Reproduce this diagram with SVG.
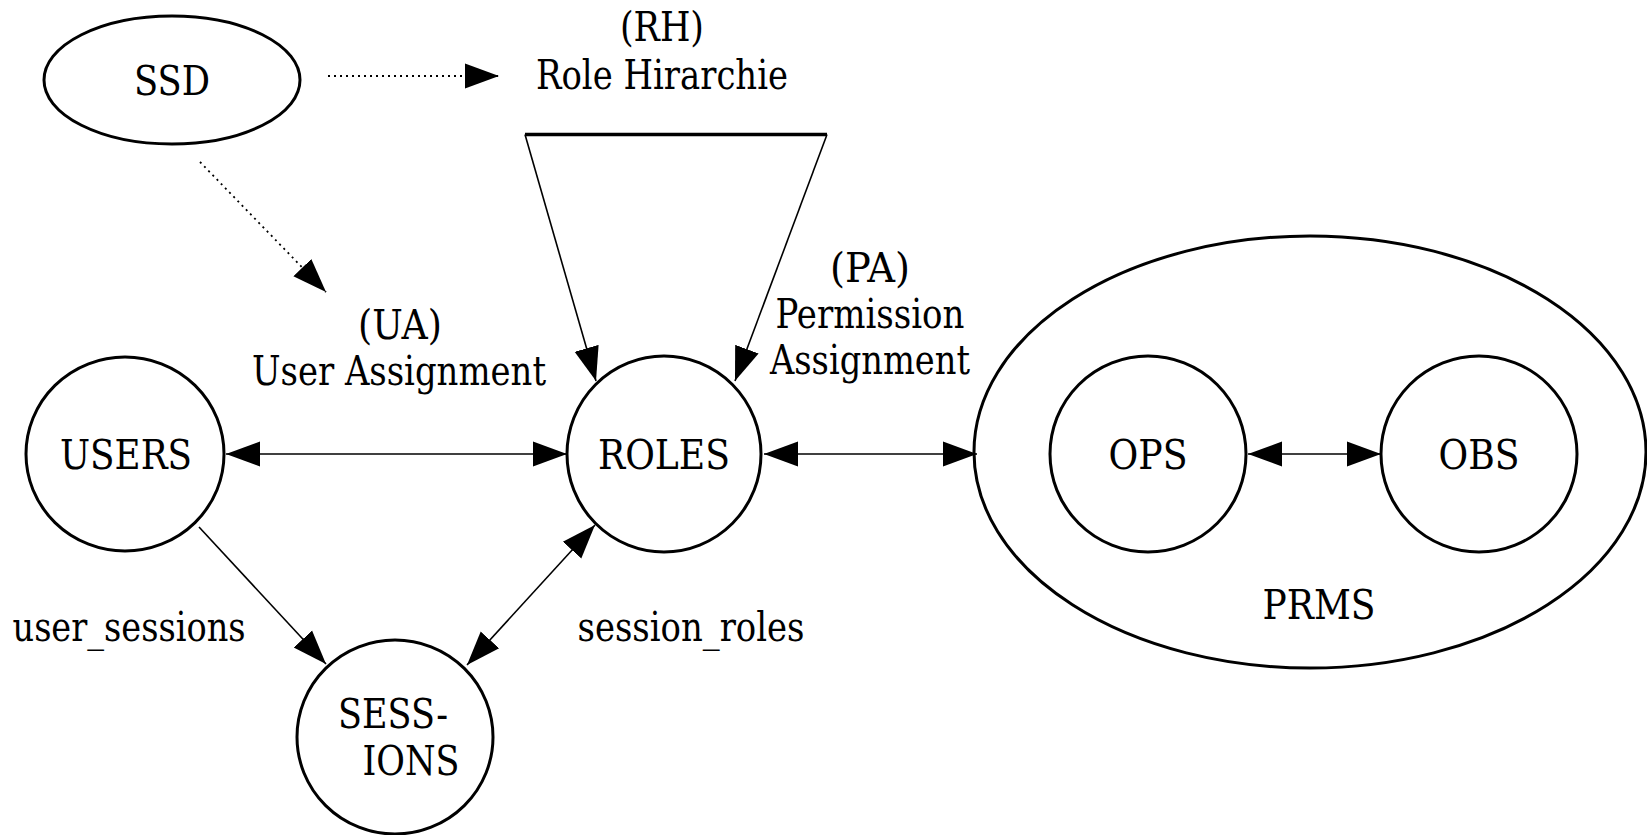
<svg xmlns="http://www.w3.org/2000/svg" width="1647" height="835" viewBox="0 0 1647 835">
<style>
.n{fill:none;stroke:#000;stroke-width:3}
.c{fill:none;stroke:#000;stroke-width:1.6}
.d{fill:none;stroke:#000;stroke-width:1.8;stroke-dasharray:2 4}
.t{font-family:"DejaVu Serif","Liberation Serif",serif;font-size:41px;fill:#000;text-anchor:middle}
</style>
<defs>
<marker id="ah" markerUnits="userSpaceOnUse" markerWidth="36" markerHeight="28" refX="34" refY="14" orient="auto-start-reverse" viewBox="0 0 36 28">
<path d="M0,1.5 L34,14 L0,26.5 Z" fill="#000"/>
</marker>
</defs>
<rect width="1647" height="835" fill="#fff"/>
<g id="connectors">
<line class="d" x1="328" y1="76" x2="499" y2="76" marker-end="url(#ah)"/>
<line class="d" x1="200" y1="162" x2="326" y2="292" marker-end="url(#ah)"/>
<line x1="525" y1="134.5" x2="827" y2="134.5" stroke="#000" stroke-width="3.5"/>
<line class="c" x1="525" y1="134.5" x2="596" y2="381" marker-end="url(#ah)"/>
<line class="c" x1="827" y1="134.5" x2="735" y2="381" marker-end="url(#ah)"/>
<line class="c" x1="226" y1="454" x2="567" y2="454" marker-start="url(#ah)" marker-end="url(#ah)"/>
<line class="c" x1="764" y1="454" x2="977" y2="454" marker-start="url(#ah)" marker-end="url(#ah)"/>
<line class="c" x1="1248" y1="454" x2="1381" y2="454" marker-start="url(#ah)" marker-end="url(#ah)"/>
<line class="c" x1="199" y1="527" x2="326" y2="664" marker-end="url(#ah)"/>
<line class="c" x1="467" y1="665" x2="595" y2="525" marker-start="url(#ah)" marker-end="url(#ah)"/>
</g>
<g id="ssd"><ellipse class="n" cx="172" cy="80" rx="128" ry="64"/><text class="t" x="172" y="95" textLength="76" lengthAdjust="spacingAndGlyphs">SSD</text></g>
<g id="rh"><text class="t" x="662" y="41" textLength="84" lengthAdjust="spacingAndGlyphs">(RH)</text><text class="t" x="662" y="89" textLength="252" lengthAdjust="spacingAndGlyphs">Role Hirarchie</text></g>
<g id="ua"><text class="t" x="400" y="339" textLength="84" lengthAdjust="spacingAndGlyphs">(UA)</text><text class="t" x="399" y="385" textLength="294" lengthAdjust="spacingAndGlyphs">User Assignment</text></g>
<g id="pa"><text class="t" x="870" y="282" textLength="80" lengthAdjust="spacingAndGlyphs">(PA)</text><text class="t" x="870" y="328" textLength="189" lengthAdjust="spacingAndGlyphs">Permission</text><text class="t" x="870" y="374" textLength="200" lengthAdjust="spacingAndGlyphs">Assignment</text></g>
<g id="users"><ellipse class="n" cx="125" cy="454" rx="99" ry="97"/><text class="t" x="126" y="469" textLength="132" lengthAdjust="spacingAndGlyphs">USERS</text></g>
<g id="roles"><ellipse class="n" cx="664" cy="454" rx="97" ry="98"/><text class="t" x="664" y="469" textLength="132" lengthAdjust="spacingAndGlyphs">ROLES</text></g>
<g id="sessions"><ellipse class="n" cx="395" cy="737" rx="98" ry="97"/><text class="t" x="393" y="728" textLength="110" lengthAdjust="spacingAndGlyphs">SESS-</text><text class="t" x="411" y="775" textLength="97" lengthAdjust="spacingAndGlyphs">IONS</text></g>
<g id="prms"><ellipse class="n" cx="1310" cy="452" rx="336" ry="216"/><text class="t" x="1319" y="619" textLength="113" lengthAdjust="spacingAndGlyphs">PRMS</text></g>
<g id="ops"><ellipse class="n" cx="1148" cy="454" rx="98" ry="98"/><text class="t" x="1148" y="469" textLength="79" lengthAdjust="spacingAndGlyphs">OPS</text></g>
<g id="obs"><ellipse class="n" cx="1479" cy="454" rx="98" ry="98"/><text class="t" x="1479" y="469" textLength="81" lengthAdjust="spacingAndGlyphs">OBS</text></g>
<g id="labels"><text class="t" x="129" y="641" textLength="233" lengthAdjust="spacingAndGlyphs">user_sessions</text><text class="t" x="691" y="641" textLength="227" lengthAdjust="spacingAndGlyphs">session_roles</text></g>
</svg>
